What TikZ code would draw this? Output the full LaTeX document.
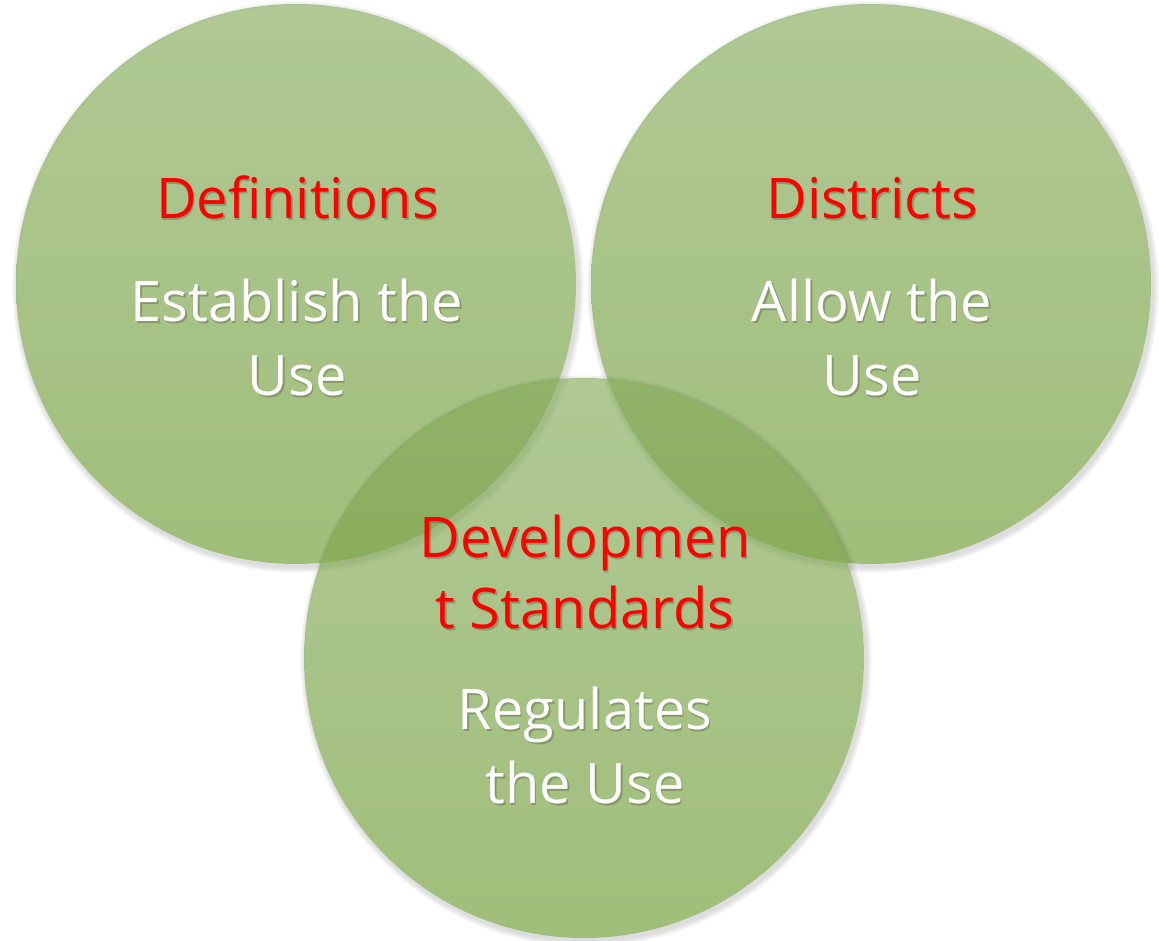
\documentclass[tikz,border=0pt]{standalone}
\usepackage{fontspec}
\setmainfont{Open Sans}
\usetikzlibrary{calc}
\definecolor{bubtop}{RGB}{134,172,92}
\definecolor{bubmid}{RGB}{118,165,64}
\definecolor{bubbot}{RGB}{110,154,50}
\definecolor{titlered}{RGB}{255,0,0}
\begin{document}
\begin{tikzpicture}[x=1pt,y=-1pt,
  bubble/.style={circle, minimum size=560pt, inner sep=0pt, draw=none,
    top color=bubtop, middle color=bubmid, bottom color=bubbot, fill opacity=0.65},
  caption/.style={font=\fontsize{56}{74}\selectfont, align=center, anchor=base, inner sep=0pt},
  title/.style={caption, text=titlered},
  body/.style={caption, text=white},
  textshadow/.style={caption, text=black, text opacity=0.2},
]
\useasboundingbox (0,0) rectangle (1159,940);

% soft drop shadow ring around a disc (kept outside the disc itself)
\newcommand{\discshadow}[1]{%
  \foreach \k in {1,...,6}
    \fill[black, opacity=0.022, even odd rule]
      ($(#1)+(2,3)$) circle[radius=280+\k] (#1) circle[radius=280];}

\coordinate (c1) at (296,284);
\coordinate (c2) at (871,284);
\coordinate (c3) at (584,658);

% the three discs, the lower one on top
\discshadow{c1}
\node[bubble] (defs) at (c1) {};
\discshadow{c2}
\node[bubble] (dists) at (c2) {};
\discshadow{c3}
\node[bubble] (devs) at (c3) {};

% captions with a faint shadow below each (anchor = baseline of the last line)
\node[textshadow] (defT-s) at (299,220) {Definitions};
\node[title] (defT) at (297.5,218) {Definitions};
\node[textshadow] (defB-s) at (298.5,397) {Establish the\\Use};
\node[body] (defB) at (297,395) {Establish the\\Use};

\node[textshadow] (disT-s) at (873.5,220) {Districts};
\node[title] (disT) at (872,218) {Districts};
\node[textshadow] (disB-s) at (873.5,397) {Allow the\\Use};
\node[body] (disB) at (872,395) {Allow the\\Use};

\node[textshadow, font=\fontsize{56}{71}\selectfont] (devT-s) at (586.5,630) {Developmen\\t Standards};
\node[title, font=\fontsize{56}{71}\selectfont] (devT) at (585,628) {Developmen\\t Standards};
\node[textshadow] (devB-s) at (586.5,805) {Regulates\\the Use};
\node[body] (devB) at (585,803) {Regulates\\the Use};
\end{tikzpicture}
\end{document}
